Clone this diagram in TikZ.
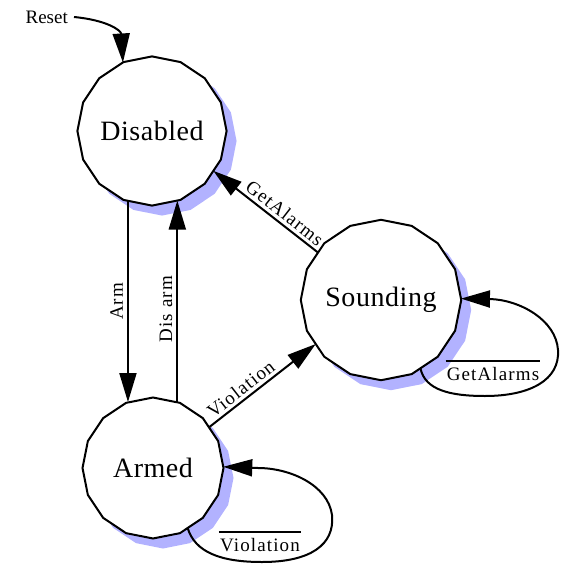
\documentclass[tikz,border=0pt]{standalone}
\usepackage{fontspec}
\setmainfont{Liberation Serif}
\newfontfamily\lblfont[LetterSpace=6]{Liberation Serif}
\newfontfamily\statefont[LetterSpace=2]{Liberation Serif}
\usetikzlibrary{shapes.geometric,arrows.meta,shadows}
\definecolor{shadowblue}{RGB}{178,178,255}
\begin{document}
\begin{tikzpicture}[x=1pt,y=-1pt,
  state/.style={draw=black, fill=white, line width=2pt, shape=regular polygon,
    regular polygon sides=16, shape border rotate=11.25, minimum size=141pt,
    inner sep=0pt, outer sep=0pt, font=\statefont\fontsize{28}{30}\selectfont,
    general shadow={fill=shadowblue, draw=none, shadow xshift=10pt, shadow yshift=-10pt}},
  arr/.style={line width=2pt, -{Triangle[length=29pt,width=17pt]}},
  lbl/.style={font=\lblfont\fontsize{19}{21}\selectfont, inner sep=3pt},
  rlbl/.style={font=\fontsize{19}{21}\selectfont, inner sep=2pt},
  bar/.style={line width=1.8pt}
]
\useasboundingbox (0,0) rectangle (561,564);

\node[state] (D) at (152,131) {Disabled};
\node[state] (S) at (381,300) {Sounding};
\node[state] (A) at (153,468) {Armed};

% Reset
\node[rlbl, anchor=east] (R) at (70,17) {Reset};
\coordinate (r0) at (74,17);
\draw[arr] (r0) .. controls (106,20) and (121,30) .. (D.113);

% Arm / Disarm
\draw[arr] (D.251) -- node[lbl, midway, rotate=90, anchor=south, inner sep=4pt] {Arm} (D.251 |- A.109);
\draw[arr] (D.290 |- A.71) -- node[lbl, pos=0.46, rotate=90, anchor=south, inner sep=4pt] {Dis arm} (D.290);

% GetAlarms S -> D
\draw[arr] (S.143) -- node[lbl, pos=0.38, sloped, above] {GetAlarms} (D.327);

% Violation A -> S
\draw[arr] (A.36) -- node[lbl, pos=0.36, sloped, above] {Violation} (S.214);

% Sounding self loop
\draw[arr] (S.300) .. controls (425,390) and (450,396) .. (485,396)
  .. controls (530,396) and (560,380) .. (558,350)
  .. controls (556,320) and (520,300) .. (490,299) -- (S.1);
\node[lbl, inner sep=1pt] (gl) at (493,374) {GetAlarms};
\draw[bar] ([yshift=5pt]gl.north west) -- ([yshift=5pt]gl.north east);

% Armed self loop
\draw[arr] (A.300) .. controls (195,552) and (220,562) .. (262,562)
  .. controls (310,562) and (335,545) .. (332,515)
  .. controls (328,485) and (290,468) .. (258,468) -- (A.1);
\node[lbl, inner sep=1pt] (vl) at (260,545) {Violation};
\draw[bar] ([yshift=5pt]vl.north west) -- ([yshift=5pt]vl.north east);
\end{tikzpicture}
\end{document}
